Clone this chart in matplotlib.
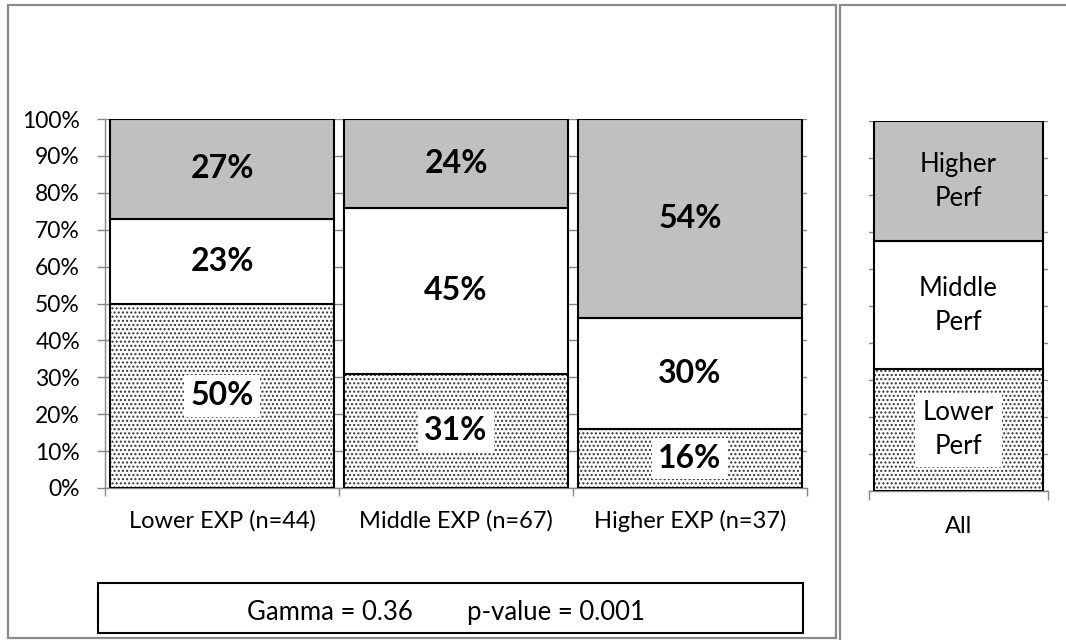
import numpy as np
import matplotlib
matplotlib.use("Agg")
import matplotlib.pyplot as plt
from matplotlib.patches import Rectangle

plt.rcParams['font.family'] = ['Lato', 'DejaVu Sans']
plt.rcParams['hatch.linewidth'] = 1.0

# ---- data ----
categories = ['Lower EXP (n=44)', 'Middle EXP (n=67)', 'Higher EXP (n=37)']
lower_perf = [50, 31, 16]
middle_perf = [23, 45, 30]
higher_perf = [27, 24, 54]

all_category = ['All']
all_lower = [33]
all_middle = [34.5]
all_higher = [32.5]
segment_names = ['Lower\nPerf', 'Middle\nPerf', 'Higher\nPerf']

y_ticks = [0, 10, 20, 30, 40, 50, 60, 70, 80, 90, 100]
y_tick_labels = [f'{v}%' for v in y_ticks]

gamma = 0.36
p_value = 0.001

# ---- style ----
W, H = 1066, 640
GRID = '#868686'
GRAYFILL = '#C0C0C0'
HATCHCOL = '#333333'
FRAME = '#8a8a8a'


def px_rect(l, t, r, b):
    return [l / W, 1 - b / H, (r - l) / W, (b - t) / H]


def fx(x):
    return x / W


def fy(y):
    return 1 - y / H


fig = plt.figure(figsize=(W / 100, H / 100), dpi=100)

# panel frames
fig.add_artist(Rectangle((fx(8), fy(638)), fx(836) - fx(8), fy(5) - fy(638),
                         transform=fig.transFigure, fill=False,
                         edgecolor=FRAME, lw=1.6))
fig.add_artist(Rectangle((fx(840), fy(645)), fx(1075) - fx(840), fy(5) - fy(645),
                         transform=fig.transFigure, fill=False,
                         edgecolor=FRAME, lw=1.6))


def stacked(ax, x, lows, mids, highs, width):
    lows = np.asarray(lows, float)
    mids = np.asarray(mids, float)
    highs = np.asarray(highs, float)
    # dotted lower segment
    ax.bar(x, lows, width=width, color='white', hatch='....',
           edgecolor=HATCHCOL, lw=0, zorder=2)
    ax.bar(x, lows, width=width, fill=False, edgecolor='black', lw=1.5, zorder=3)
    ax.bar(x, mids, bottom=lows, width=width, color='white',
           edgecolor='black', lw=1.5, zorder=3)
    ax.bar(x, highs, bottom=lows + mids, width=width, color=GRAYFILL,
           edgecolor='black', lw=1.5, zorder=3)
    return lows, mids, highs


def style_axes(ax):
    ax.set_ylim(0, 100)
    ax.set_yticks(y_ticks)
    ax.yaxis.grid(True, color=GRID, lw=1.0, zorder=0)
    ax.set_axisbelow(True)
    for s in ['top', 'right']:
        ax.spines[s].set_visible(False)
    ax.spines['bottom'].set_color(GRID)
    ax.spines['bottom'].set_linewidth(1.0)
    ax.spines['left'].set_color(GRID)
    ax.spines['left'].set_linewidth(1.0)


# ---- main panel ----
ax = fig.add_axes(px_rect(105, 119, 807, 488))
x = np.arange(len(categories))
lows, mids, highs = stacked(ax, x, lower_perf, middle_perf, higher_perf, 0.953)
style_axes(ax)
ax.set_xlim(-0.5, len(categories) - 0.5)
ax.set_yticklabels(y_tick_labels, fontsize=16.5)
ax.tick_params(axis='y', direction='out', length=6, width=1.0, color=GRID, pad=12)
ax.set_xticks(np.arange(len(categories) + 1) - 0.5)
ax.set_xticklabels([])
ax.tick_params(axis='x', which='major', direction='out', length=5.5, width=1.0, color=GRID)
ax.set_xticks(x, minor=True)
ax.set_xticklabels(categories, minor=True, fontsize=17)
ax.tick_params(axis='x', which='minor', length=0, pad=16)

for i in range(len(categories)):
    ax.text(x[i], lows[i] / 2, f'{lower_perf[i]}%', ha='center', va='center',
            fontsize=23, fontweight='bold', zorder=5,
            bbox=dict(boxstyle='square,pad=0.2', fc='white', ec='none'))
    ax.text(x[i], lows[i] + mids[i] / 2, f'{middle_perf[i]}%', ha='center',
            va='center', fontsize=23, fontweight='bold', zorder=5)
    ax.text(x[i], lows[i] + mids[i] + highs[i] / 2, f'{higher_perf[i]}%',
            ha='center', va='center', fontsize=23, fontweight='bold', zorder=5)

# ---- "All" panel ----
ax2 = fig.add_axes(px_rect(869, 121, 1048, 491))
x2 = np.arange(len(all_category))
l2, m2, h2 = stacked(ax2, x2, all_lower, all_middle, all_higher, 0.944)
style_axes(ax2)
ax2.spines['left'].set_visible(False)
ax2.set_xlim(-0.5, 0.5)
ax2.set_yticklabels([])
ax2.tick_params(axis='y', length=0)
ax2.set_xticks([-0.5, 0.5])
ax2.set_xticklabels([])
ax2.tick_params(axis='x', which='major', direction='out', length=6.5, width=1.0, color=GRID)
ax2.set_xticks(x2, minor=True)
ax2.set_xticklabels(all_category, minor=True, fontsize=17)
ax2.tick_params(axis='x', which='minor', length=0, pad=18)

ax2.text(x2[0], l2[0] / 2, segment_names[0], ha='center', va='center',
         fontsize=18.5, linespacing=1.45, zorder=5,
         bbox=dict(boxstyle='square,pad=0.3', fc='white', ec='none'))
ax2.text(x2[0], l2[0] + m2[0] / 2, segment_names[1], ha='center', va='center',
         fontsize=18.5, linespacing=1.45, zorder=5)
ax2.text(x2[0], l2[0] + m2[0] + h2[0] / 2, segment_names[2], ha='center',
         va='center', fontsize=18.5, linespacing=1.45, zorder=5)

# ---- statistics box ----
fig.add_artist(Rectangle((fx(98), fy(633)), fx(803) - fx(98), fy(583) - fy(633),
                         transform=fig.transFigure, fill=False,
                         edgecolor='black', lw=1.5))
fig.text(fx(413), fy(620), f'Gamma = {gamma:.2f}', ha='right', va='baseline',
         fontsize=18.5)
fig.text(fx(467), fy(620), f'p-value = {p_value:.3f}', ha='left', va='baseline',
         fontsize=18.5)

fig.savefig('out.png', dpi=100, facecolor='white')
